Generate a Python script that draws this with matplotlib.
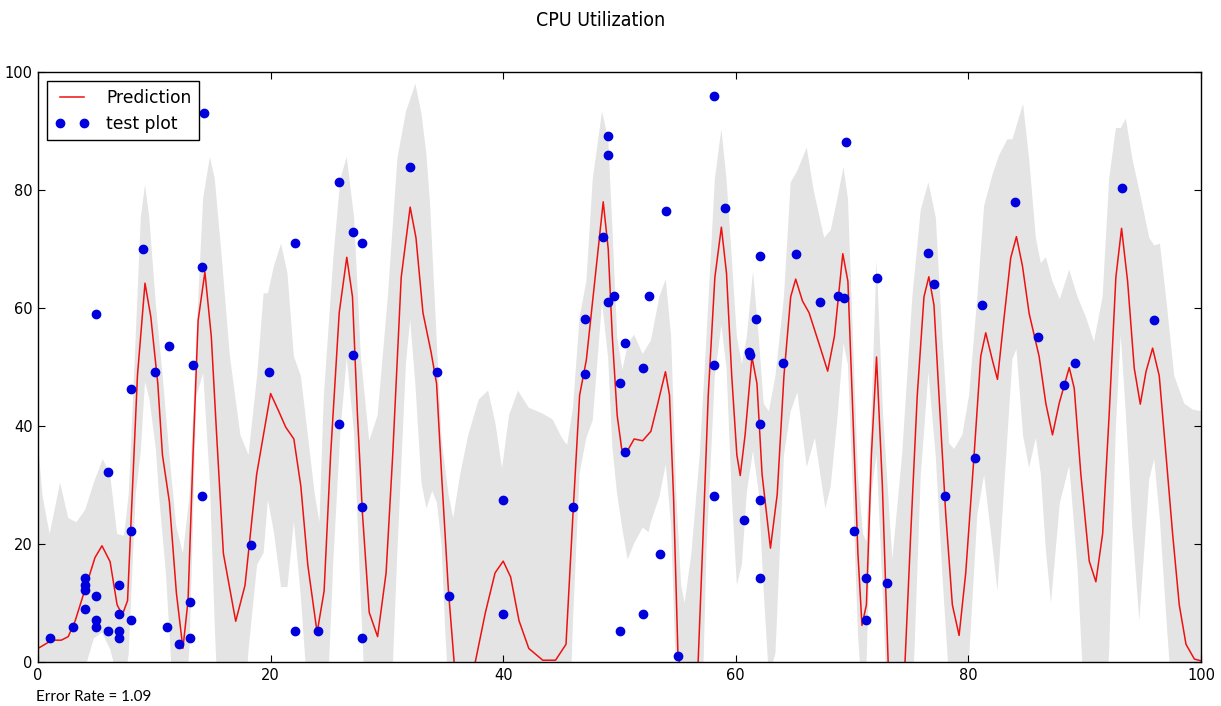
import numpy as np
import matplotlib
matplotlib.use('Agg')
import matplotlib.pyplot as plt

# test points (x, CPU %)
test_x = [1.0, 3.0, 4.0, 4.0, 4.0, 4.0, 5.0, 5.0, 5.0, 5.0, 6.0, 6.0, 7.0, 7.0, 7.0, 7.0,
          8.0, 8.0, 8.0, 9.0, 10.1, 11.1, 11.3, 12.1, 13.1, 13.1, 13.3, 14.1, 14.1, 14.3,
          18.3, 19.9, 22.1, 22.1, 24.1, 25.9, 25.9, 27.1, 27.1, 27.9, 27.9, 27.9, 32.0,
          34.3, 35.3, 40.0, 40.0, 46.0, 47.0, 47.0, 48.6, 49.0, 49.0, 49.0, 49.5, 50.0,
          50.0, 50.5, 50.5, 52.0, 52.0, 52.5, 53.5, 54.0, 55.0, 58.1, 58.1, 58.1, 59.1,
          60.7, 61.1, 61.2, 61.7, 62.1, 62.1, 62.1, 62.1, 64.1, 65.2, 67.2, 68.8, 69.3,
          69.5, 70.2, 71.2, 71.2, 72.1, 73.0, 76.5, 77.0, 78.0, 80.6, 81.2, 84.0, 86.0,
          88.2, 89.2, 93.2, 96.0]
test_y = [4.1, 6.0, 14.2, 13.0, 12.2, 9.0, 59.0, 11.2, 7.2, 6.0, 32.2, 5.2, 13.0, 8.2, 5.2, 4.1,
          46.3, 22.2, 7.2, 70.0, 49.2, 6.0, 53.5, 3.1, 10.2, 4.1, 50.3, 28.2, 67.0, 93.1,
          19.9, 49.2, 71.0, 5.2, 5.2, 81.3, 40.3, 72.8, 52.1, 71.0, 26.2, 4.1, 83.9,
          49.2, 11.2, 27.4, 8.2, 26.2, 58.1, 48.8, 72.0, 89.1, 86.0, 61.1, 62.1, 47.3,
          5.2, 54.0, 35.6, 49.8, 8.2, 62.1, 18.3, 76.5, 1.1, 96.0, 50.3, 28.2, 77.0,
          24.1, 52.6, 52.1, 58.1, 68.8, 40.3, 27.4, 14.2, 50.6, 69.1, 61.1, 62.1, 61.7,
          88.1, 22.2, 14.3, 7.2, 65.1, 13.4, 69.3, 64.0, 28.1, 34.5, 60.5, 77.9, 55.1,
          47.0, 50.6, 80.4, 58.0]

# predicted mean
pred_x = [0, 1.2, 2.0, 2.6, 3.2, 4.06, 4.9, 5.5, 6.2, 6.8, 7.25, 7.7, 8.1, 8.55, 9.2, 9.7,
          10.3, 10.7, 11.3, 11.9, 12.46, 12.9, 13.33, 13.77, 14.35, 14.9, 15.36, 15.94,
          17.0, 17.8, 18.8, 20.0, 20.7, 21.3, 22.0, 22.6, 23.2, 24.0, 24.6, 25.16, 25.9,
          26.55, 27.04, 27.47, 27.9, 28.48, 29.2, 29.93, 30.5, 31.23, 32.0, 32.5, 33.1,
          33.8, 34.27, 34.7, 35.28, 35.78, 36.7, 37.6, 38.47, 39.3, 40.0, 40.64, 41.36,
          42.2, 43.4, 44.5, 45.4, 46.0, 46.57, 47.15, 47.73, 48.6, 49.03, 49.38, 49.8,
          50.19, 50.6, 51.26, 51.99, 52.7, 53.29, 53.95, 54.3, 54.65, 55.02, 55.9, 56.76,
          57.19, 57.63, 58.2, 58.76, 59.2, 59.65, 60.09, 60.38, 60.8, 61.39, 61.82, 62.26,
          62.98, 63.56, 64.14, 64.72, 65.15, 65.73, 66.3, 67.18, 67.9, 68.48, 69.2, 69.64,
          70.07, 70.5, 70.85, 71.23, 71.66, 72.1, 72.6, 73.1, 73.8, 74.55, 75.04, 75.6,
          76.18, 76.6, 77.04, 77.47, 78.05, 78.62, 79.2, 79.77, 80.49, 81.06, 81.49, 82.07,
          82.5, 83.07, 83.64, 84.13, 84.65, 85.22, 86.08, 86.66, 87.23, 87.8, 88.67, 89.1,
          89.67, 90.39, 90.96, 91.54, 92.1, 92.68, 93.17, 93.69, 94.26, 94.78, 95.27, 95.84,
          96.41, 96.99, 97.56, 98.13, 98.71, 99.43, 100]
pred_y = [2.3, 3.7, 3.7, 4.3, 7.0, 12.4, 17.7, 19.7, 17.0, 9.7, 8.0, 10.4, 28.4, 48.5, 64.2, 58.5,
          47.2, 35.1, 27.1, 11.7, 2.3, 10.4, 35.1, 57.9, 66.1, 55.2, 38.5, 18.4,
          6.9, 13.0, 31.8, 45.5, 42.5, 39.8, 37.8, 29.8, 16.4, 5.0, 12.0, 35.1, 59.2,
          68.6, 61.9, 41.8, 25.1, 8.4, 4.3, 15.1, 35.1, 65.2, 77.1, 71.9, 59.2,
          52.5, 47.2, 31.8, 12.4, 0.0, -6.0, 0.0, 8.4, 15.1, 17.1, 14.4, 7.0,
          2.3, 0.3, 0.3, 3.0, 25.1, 45.2, 51.2, 61.9, 78.0, 70.0, 55.2, 41.8,
          36.1, 35.5, 37.8, 37.5, 39.1, 43.8, 49.2, 45.2, 27.8, 1.7, -10.0, 0.0,
          21.7, 45.2, 65.2, 73.7, 65.9, 48.5, 35.1, 31.6, 38.5, 51.7, 47.2, 31.8,
          19.3, 28.4, 48.5, 61.9, 64.9, 61.2, 59.2, 53.8, 49.3, 55.2, 69.2, 64.5,
          41.8, 18.4, 6.2, 9.7, 35.1, 51.7, 30.0, 0.0, -12.0, 0.0, 21.7, 45.1,
          61.9, 65.3, 60.5, 45.2, 25.1, 9.7, 4.5, 15.1, 35.1, 51.8, 55.8, 51.1,
          47.9, 58.4, 68.5, 72.1, 67.1, 59.1, 51.8, 43.8, 38.5, 43.8, 49.9, 46.4,
          31.8, 17.1, 13.6, 21.7, 41.8, 65.2, 73.5, 64.5, 49.8, 43.7, 49.2, 53.2,
          48.5, 35.1, 21.7, 9.7, 3.0, 0.5, 0.2]

# confidence band, upper edge
upper_x = [0, 0.4, 1.0, 1.9, 2.6, 3.3, 4.06, 4.8, 5.57, 6.2, 6.8, 7.4, 7.8, 8.4, 8.84, 9.2,
           9.57, 10.14, 10.72, 11.3, 11.88, 12.46, 13.04, 13.62, 14.2, 14.78, 15.2, 15.8,
           16.5, 17.4, 18.1, 18.84, 19.4, 19.77, 20.3, 20.9, 21.45, 22.0, 22.6, 23.2, 23.8,
           24.2, 24.58, 25.4, 26.0, 26.55, 27.18, 27.76, 28.48, 29.2, 30.08, 30.9, 31.64,
           32.45, 32.97, 33.4, 33.7, 34.1, 34.7, 35.3, 35.7, 36.3, 37.0, 37.9, 38.7, 39.33,
           39.9, 40.5, 41.27, 42.2, 43.4, 44.25, 45.1, 45.5, 46.0, 46.57, 47.15, 47.7, 48.5,
           49.03, 49.38, 49.8, 50.25, 50.7, 51.26, 51.99, 52.7, 53.43, 53.98, 54.44, 54.88,
           55.3, 55.6, 56.18, 56.9, 57.48, 58.2, 58.76, 59.2, 59.65, 60.09, 60.52, 60.95,
           61.48, 61.97, 62.4, 62.84, 63.41, 64.14, 64.72, 65.3, 66.1, 66.7, 67.6, 68.16,
           68.74, 69.26, 69.64, 70.07, 70.5, 70.94, 71.23, 71.66, 72.1, 72.67, 73.46, 74.3,
           75.18, 75.9, 76.56, 77.2, 77.76, 78.34, 78.77, 79.48, 80.06, 80.77, 81.35, 82.07,
           82.64, 83.36, 83.79, 84.7, 85.22, 85.8, 86.23, 86.66, 87.23, 87.86, 88.67, 89.38,
           90.1, 90.8, 91.54, 92.1, 92.68, 93.1, 93.54, 94.1, 94.84, 95.55, 95.98, 96.47,
           96.99, 97.7, 98.56, 99.28, 100]
upper_y = [37.0, 28.0, 21.7, 30.4, 24.4, 23.7, 25.8, 30.4, 34.4, 31.8, 21.7, 21.4, 28.4, 55.2, 75.3, 80.9,
           75.3, 60.5, 48.5, 35.1, 23.1, 18.4, 28.4, 55.2, 78.6, 85.6, 81.9, 68.6,
           51.8, 38.5, 35.1, 48.5, 62.5, 62.5, 67.2, 70.9, 65.9, 51.8, 48.5, 38.5, 28.4,
           23.7, 45.2, 68.6, 81.9, 85.6, 75.3, 51.8, 37.5, 41.8, 61.9, 85.3, 93.3,
           98.0, 93.0, 86.0, 78.0, 62.0, 37.8, 28.4, 24.4, 31.8, 38.5, 44.5, 46.0, 40.5,
           32.8, 41.8, 46.0, 43.1, 42.1, 41.1, 37.8, 36.8, 43.1, 58.5, 64.5, 81.9, 93.3,
           88.6, 73.9, 55.2, 49.5, 53.8, 55.5, 52.2, 54.5, 61.9, 64.9, 55.2, 28.4,
           13.0, 10.0, 18.4, 35.1, 55.2, 81.9, 90.3, 81.9, 68.6, 55.2, 50.5, 55.2,
           66.2, 55.2, 43.8, 42.5, 48.5, 61.9, 81.3, 83.3, 87.2, 79.9, 71.9, 73.2,
           78.6, 83.9, 78.6, 55.2, 31.8, 21.7, 20.4, 41.8, 68.2, 41.8, 17.4, 35.1,
           61.9, 76.6, 81.3, 75.3, 55.2, 37.1, 36.1, 38.5, 45.2, 61.9, 77.3, 82.6,
           85.9, 88.6, 88.6, 94.6, 85.3, 71.9, 67.6, 68.6, 64.5, 61.5, 66.5, 61.9,
           58.5, 54.3, 61.9, 81.8, 90.5, 90.5, 92.1, 85.3, 78.6, 71.9, 70.6, 70.9,
           61.9, 48.5, 43.8, 42.8, 42.5]

# confidence band, lower edge
lower_x = [0, 1.0, 1.9, 2.6, 3.3, 4.06, 4.8, 5.5, 6.2, 6.8, 7.3, 7.8, 8.1, 8.4, 8.84, 9.2,
           9.57, 10.14, 10.4, 11.0, 11.45, 11.88, 12.46, 13.04, 13.62, 14.2, 14.78, 15.2,
           15.8, 16.5, 17.4, 18.1, 18.84, 19.4, 19.77, 20.3, 20.9, 21.45, 22.0, 22.6, 23.2,
           23.8, 24.2, 24.58, 25.4, 26.0, 26.55, 27.18, 27.76, 28.48, 29.2, 30.08, 30.9,
           31.64, 32.0, 32.45, 32.97, 33.4, 33.9, 34.3, 34.7, 35.0, 35.3, 35.7, 36.3, 37.0,
           37.9, 38.7, 39.33, 39.9, 40.5, 41.27, 42.2, 43.4, 44.25, 45.1, 45.5, 46.0, 46.57,
           47.15, 47.7, 48.5, 49.03, 49.38, 49.8, 50.25, 50.7, 51.26, 51.99, 52.5, 52.7,
           53.43, 53.98, 54.44, 54.88, 55.3, 55.6, 56.18, 56.9, 57.48, 58.2, 58.76, 59.2,
           59.65, 60.09, 60.52, 60.95, 61.48, 61.97, 62.4, 62.84, 63.41, 64.14, 64.72, 65.3,
           66.1, 66.8, 67.7, 68.16, 68.74, 69.26, 69.64, 70.07, 70.5, 70.94, 71.23, 71.66,
           72.1, 72.67, 73.46, 74.3, 75.18, 75.9, 76.56, 77.2, 77.76, 78.34, 78.77, 79.48,
           80.06, 80.77, 81.35, 82.07, 82.5, 83.36, 83.79, 84.13, 84.7, 85.22, 85.8, 86.23,
           86.66, 87.1, 87.86, 88.67, 89.38, 90.1, 90.8, 91.54, 92.1, 92.68, 93.1, 93.54,
           94.1, 94.7, 95.55, 95.98, 96.47, 96.99, 97.7, 98.56, 99.28, 100]
lower_y = [-33.0, -14.0, -23.0, -16.0, -9.0, -1.0, 4.0, 5.0, 2.2, -2.3, -5.4, 1.4, 15.0, 28.4, 35.7, 47.5,
           44.7, 36.0, 28.4, 15.0, 0.0, -8.0, -14.0, 3.0, 45.0, 49.0, 30.4, 6.0,
           -22.0, -32.0, -20.0, 2.0, 16.5, 18.5, 27.5, 21.8, 12.7, 12.7, 23.8, 11.1, -5.7,
           -13.4, -11.7, -21.0, 17.4, 39.0, 51.6, 38.7, 10.2, -20.7, -33.0, -22.0, 18.7,
           50.7, 58.0, 47.0, 30.4, 26.0, 29.0, 27.0, 20.0, 6.0, -5.0, -21.0, -40.0, -46.0,
           -38.0, -25.0, -10.0, -1.0, -12.0, -30.0, -38.0, -41.0, -40.0, -35.0, -23.0, 7.0, 32.0,
           38.0, 41.0, 61.0, 51.4, 36.5, 28.4, 22.5, 17.4, 20.1, 22.8, 22.0, 23.7,
           28.0, 33.5, 23.0, -4.0, -23.0, -26.0, -34.0, -25.0, 19.0, 48.5, 57.1, 49.9,
           28.4, 13.0, 16.5, 28.8, 35.8, 28.8, 12.0, -2.5, 1.5, 35.1, 42.5, 45.7,
           33.0, 38.0, 26.0, 29.8, 41.4, 54.0, 50.4, 28.4, 5.0, -8.7, -1.0, 28.4,
           35.2, 10.0, -29.0, -41.0, -8.0, 31.4, 49.1, 34.7, 14.8, -3.0, -21.0, -18.5,
           0.8, 25.0, 31.7, 19.6, 12.0, 38.4, 51.4, 53.0, 38.4, 32.9, 38.0, 31.8,
           19.0, 10.0, 26.9, 33.3, 16.0, -12.5, -26.0, -18.5, 1.8, 39.9, 55.5, 42.0,
           22.7, 7.0, 31.0, 34.4, 24.0, 8.3, -11.5, -35.0, -41.6, -42.0]

error_rate = 1.09

fig = plt.figure(figsize=(12.21, 7.06), dpi=100)
ax = fig.add_axes([38 / 1221, 44 / 706, 1163 / 1221, 590 / 706])

band_x = np.r_[upper_x, lower_x[::-1]]
band_y = np.r_[upper_y, lower_y[::-1]]
ax.fill(band_x, band_y, color='#e4e4e4', lw=0, zorder=1)
ax.plot(pred_x, pred_y, '-', color='#ee1111', lw=1.1, label='Prediction', zorder=2)
ax.plot(test_x, test_y, 'o', color='#0000dd', mec='#0000dd', ms=6, label='test plot', zorder=3)

ax.set_xlim(0, 100)
ax.set_ylim(0, 100)
ax.set_xticks([0, 20, 40, 60, 80, 100])
ax.set_yticks([0, 20, 40, 60, 80, 100])
ax.tick_params(direction='in', top=True, right=True, length=5, width=0.8,
               labelsize=10.5, pad=4)
for s in ax.spines.values():
    s.set_linewidth(1.0)

leg = ax.legend(loc='upper left', numpoints=2, fancybox=False, framealpha=1,
                edgecolor='black', fontsize=12.3, borderaxespad=0.55,
                handlelength=2.0, handletextpad=1.0, borderpad=0.45, labelspacing=0.45)
leg.get_frame().set_linewidth(1.0)

fig.text(601 / 1221, 1 - 20 / 706, 'CPU Utilization', ha='center', va='center',
         fontsize=14, fontstretch='condensed')
fig.text(36 / 1221, 1 - 697 / 706, 'Error Rate = %.2f' % error_rate, ha='left',
         va='center', fontsize=11, family='Lato')

fig.savefig('out.png', dpi=100, facecolor='white')
